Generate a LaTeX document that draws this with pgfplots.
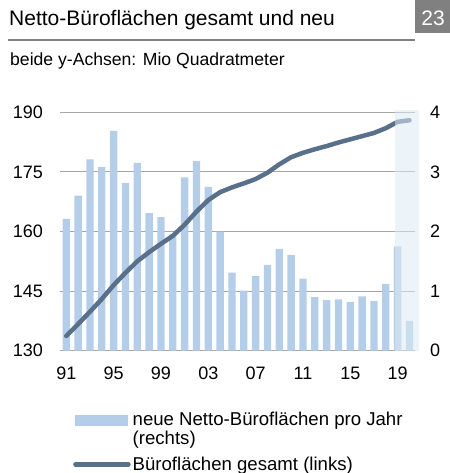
\documentclass[border=0pt]{standalone}
\usepackage{pgfplots}
\pgfplotsset{compat=1.18}
\usepackage{fontspec}
\setmainfont{Liberation Sans}
\definecolor{barcol}{HTML}{B4CEE9}
\definecolor{linecol}{HTML}{58708A}
\definecolor{gridcol}{HTML}{A6A6A6}
\definecolor{boxgray}{HTML}{808080}
\definecolor{shadecol}{HTML}{DCEBF4}
\begin{document}
\begin{tikzpicture}
\useasboundingbox (0bp,0bp) rectangle (450bp,-473bp);
% header
\fill[boxgray] (415bp,0bp) rectangle (450bp,-33bp);
\node[anchor=base, inner sep=0, text=white, font=\fontsize{21bp}{24bp}\selectfont] at (433bp,-25bp) {23};
\node[anchor=base west, inner sep=0, font=\fontsize{21bp}{24bp}\selectfont] at (9bp,-25bp) {Netto-Büroflächen gesamt und neu};
\draw[boxgray, line width=2bp] (8bp,-40bp) -- (415bp,-40bp);
\node[anchor=base west, inner sep=0, font=\fontsize{17.6bp}{20bp}\selectfont] at (10bp,-65.7bp) {beide y-Achsen: Mio Quadratmeter};
% bar axis (right)
\begin{axis}[
  at={(60bp,-350.7bp)}, anchor=south west,
  scale only axis, width=355bp, height=238.4bp,
  xmin=1990.47, xmax=2020.47,
  ymin=0, ymax=4,
  axis y line*=right, axis x line*=bottom,
  x axis line style={draw=gridcol, line width=1bp},
  y axis line style={draw=none},
  ytick={0,1,2,3,4},
  xtick={1991,1995,1999,2003,2007,2011,2015,2019},
  xticklabels={91,95,99,03,07,11,15,19},
  major tick length=0pt,
  ymajorgrids, grid style={gridcol, line width=1bp},
  tick label style={font=\fontsize{18bp}{20bp}\selectfont, inner sep=0pt},
  yticklabel style={xshift=15bp, anchor=west},
  xticklabel style={yshift=-16bp, anchor=north},
  /pgf/number format/assume math mode=true,
  axis on top=false,
]
\addplot[ybar, bar width=7.3bp, fill=barcol, draw=none] coordinates {
(1991,2.21) (1992,2.60) (1993,3.21) (1994,3.08) (1995,3.69) (1996,2.81)
(1997,3.15) (1998,2.31) (1999,2.24) (2000,1.95) (2001,2.91) (2002,3.18)
(2003,2.75) (2004,2.00) (2005,1.31) (2006,1.01) (2007,1.25) (2008,1.44)
(2009,1.71) (2010,1.61) (2011,1.21) (2012,0.90) (2013,0.85) (2014,0.86)
(2015,0.82) (2016,0.91) (2017,0.83) (2018,1.12) (2019,1.75) (2020,0.50)
};
\end{axis}
% line axis (left)
\begin{axis}[
  at={(60bp,-350.7bp)}, anchor=south west,
  scale only axis, width=355bp, height=238.4bp,
  xmin=1990.47, xmax=2020.47,
  ymin=130, ymax=190,
  axis y line*=left, axis x line=none,
  y axis line style={draw=none},
  ytick={130,145,160,175,190},
  major tick length=0pt,
  tick label style={font=\fontsize{18bp}{20bp}\selectfont, inner sep=0pt},
  yticklabel style={xshift=-17bp, anchor=east},
  /pgf/number format/assume math mode=true,
  clip=false,
  legend style={at={(13bp,-59bp)}, anchor=north west, draw=none, fill=none,
    font=\fontsize{18.6bp}{19.5bp}\selectfont, cells={anchor=west, align=left},
    row sep=6.5bp, inner sep=0pt},
]
\addlegendimage{legend image code/.code={\fill[barcol] (0bp,4bp) rectangle (52bp,14bp);}}
\addlegendentry{neue Netto-Büroflächen pro Jahr\\(rechts)}
\addplot[linecol, line width=4.5bp, line cap=round, line join=round,
  legend image code/.code={\draw[linecol, line width=4.5bp, line cap=round] (0bp,0bp) -- (53bp,0bp);}] coordinates {
(1991,133.7) (1992,136.7) (1993,139.8) (1994,143.0) (1995,146.5) (1996,149.6)
(1997,152.5) (1998,154.8) (1999,156.9) (2000,158.9) (2001,161.7) (2002,165.0)
(2003,167.9) (2004,169.9) (2005,171.1) (2006,172.1) (2007,173.2) (2008,174.8)
(2009,176.9) (2010,178.7) (2011,179.8) (2012,180.7) (2013,181.5) (2014,182.4)
(2015,183.2) (2016,184.0) (2017,184.8) (2018,186.0) (2019,187.6) (2020,188.0)
};
\addlegendentry{Büroflächen gesamt (links)}
\fill[shadecol, opacity=0.55] (axis cs:2018.78,130) rectangle (axis cs:2020.83,190.6);
\end{axis}
\end{tikzpicture}
\end{document}
